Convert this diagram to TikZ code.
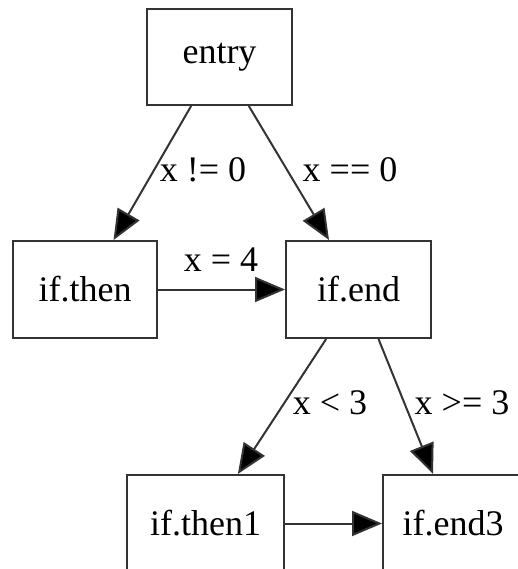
\documentclass[tikz,border=0pt]{standalone}
\usepackage{fontspec}
\setmainfont{Liberation Serif}
\usetikzlibrary{arrows.meta}
\begin{document}
\begin{tikzpicture}[x=1pt,y=-1pt,
  box/.style={draw=black!80,line width=2pt,rectangle,inner sep=0pt,font=\fontsize{36}{40}\selectfont},
  lbl/.style={inner sep=0pt,font=\fontsize{36}{40}\selectfont},
  edge/.style={draw=black!80,line width=2pt,-{Triangle[length=30pt,width=25pt,fill=black]}}]
\useasboundingbox (0,0) rectangle (518,569);
\node[box,minimum width=145pt,minimum height=96pt] (entry) at (219.5,57) {entry};
\node[box,minimum width=144pt,minimum height=97pt] (ifthen) at (85,289.5) {if.then};
\node[box,minimum width=145pt,minimum height=97pt] (ifend) at (358.5,289.5) {if.end};
\node[box,minimum width=157pt,minimum height=97pt] (ifthen1) at (205.5,523.5) {if.then1};
\node[box,minimum width=140pt,minimum height=97pt] (ifend3) at (453,523.5) {if.end3};
\node[lbl] (l1) at (203,170) {x != 0};
\node[lbl] (l2) at (350,170) {x == 0};
\node[lbl] (l3) at (221,260) {x = 4};
\node[lbl] (l4) at (330,403) {x < 3};
\node[lbl] (l5) at (462,403) {x >= 3};
\draw[edge] (entry) -- (ifthen);
\draw[edge] (entry) -- (ifend);
\draw[edge] (ifthen) -- (ifend);
\draw[edge] (ifend) -- (ifthen1);
\draw[edge] (ifend) -- (ifend3);
\draw[edge] (ifthen1) -- (ifend3);
\end{tikzpicture}
\end{document}
